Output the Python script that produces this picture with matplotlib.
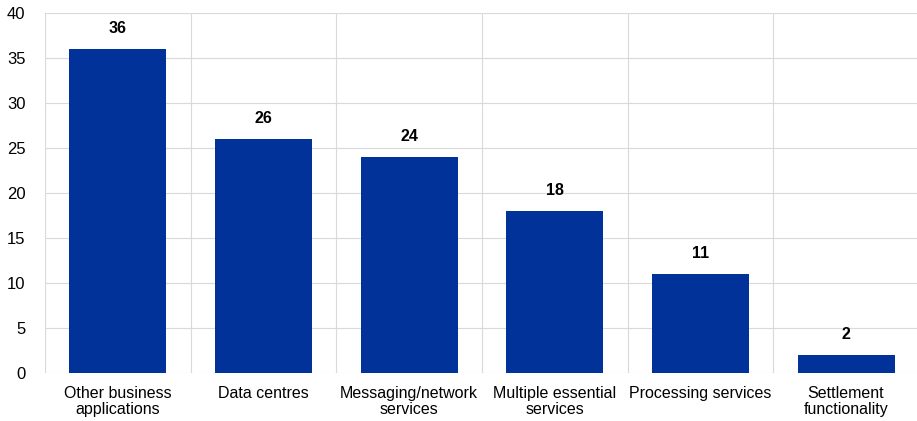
import matplotlib
matplotlib.use("Agg")
import matplotlib.pyplot as plt
import numpy as np

categories = ["Other business\napplications", "Data centres", "Messaging/network\nservices",
              "Multiple essential\nservices", "Processing services", "Settlement\nfunctionality"]
values = [36, 26, 24, 18, 11, 2]

plt.rcParams["font.family"] = ["Liberation Sans", "DejaVu Sans"]

fig = plt.figure(figsize=(9.17, 4.21), dpi=100)
ax = fig.add_axes([0.049, 0.114, 0.953, 0.855])

x = np.arange(len(categories))
ax.bar(x, values, width=0.666, color="#003299", zorder=3)

for xi, v in zip(x, values):
    ax.text(xi, v + 1.4, str(v), ha="center", va="bottom", fontsize=11.5,
            fontweight="bold", color="black")

ax.set_xlim(-0.5, len(categories) - 0.5)
ax.set_ylim(0, 40)
ax.set_yticks(range(0, 41, 5))
ax.set_xticks(x)
ax.set_xticklabels(categories, fontsize=11.5, linespacing=1.12)
ax.tick_params(axis="y", labelsize=12, length=0, pad=14)
ax.tick_params(axis="x", length=0, pad=9)

# horizontal grid and category separators
ax.grid(axis="y", color="#d9d9d9", linewidth=0.8, zorder=0)
for b in np.arange(-0.5, len(categories), 1.0):
    ax.axvline(b, color="#d9d9d9", linewidth=0.8, zorder=0)

for s in ax.spines.values():
    s.set_visible(False)

fig.savefig("out.png", dpi=100)
